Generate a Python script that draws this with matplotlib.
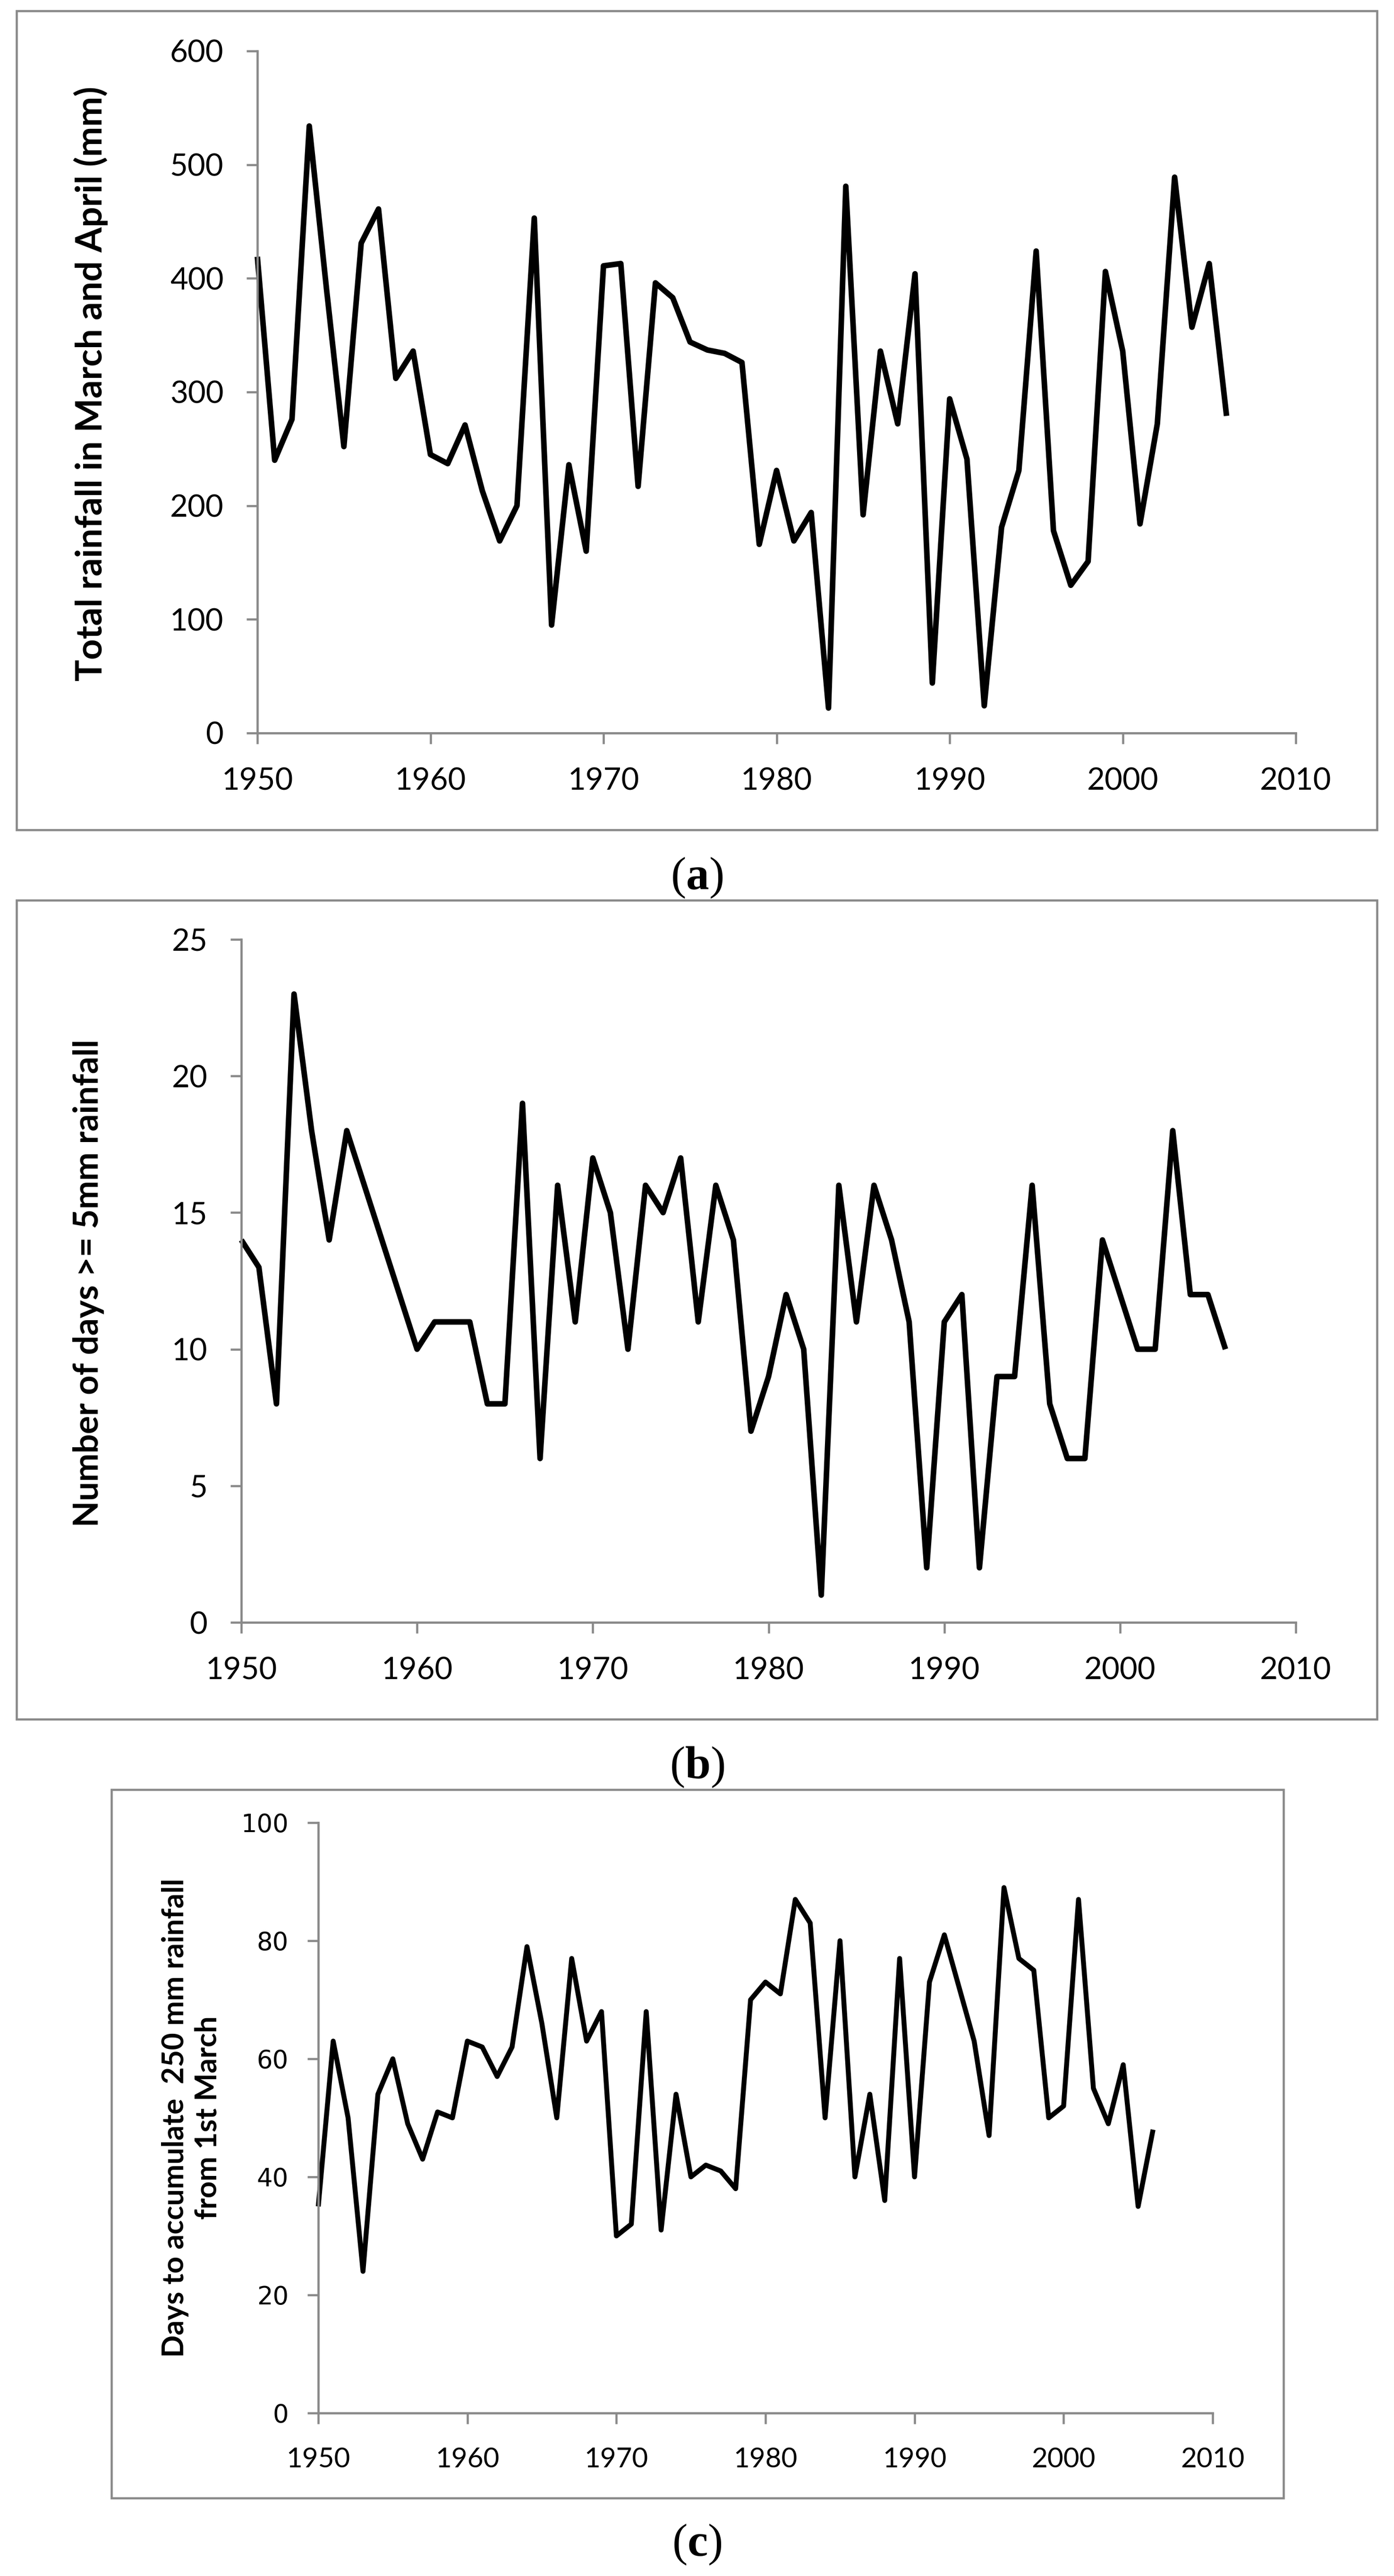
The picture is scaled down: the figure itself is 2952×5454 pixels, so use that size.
import numpy as np
import matplotlib
matplotlib.use('Agg')
import matplotlib.pyplot as plt
from matplotlib.patches import Rectangle

plt.rcParams['mathtext.fontset'] = 'custom'
plt.rcParams['mathtext.rm'] = 'Liberation Serif'
plt.rcParams['mathtext.bf'] = 'Liberation Serif:bold'

W, H = 2952, 5454
GRAY = '#898989'

# data
years = np.arange(1950, 2007)

rain_mar_apr = [419, 240, 276, 534, 390, 252, 431, 461, 312, 336,
                245, 237, 271, 213, 169, 200, 453, 95, 236, 160,
                411, 413, 217, 396, 383, 344, 337, 334, 326, 166,
                231, 169, 194, 22, 481, 192, 336, 272, 404, 44,
                294, 241, 24, 181, 231, 424, 178, 130, 151, 406,
                336, 184, 272, 489, 357, 413, 279]

days_over_5mm = [14, 13, 8, 23, 18, 14, 18, 16, 14, 12,
                 10, 11, 11, 11, 8, 8, 19, 6, 16, 11,
                 17, 15, 10, 16, 15, 17, 11, 16, 14, 7,
                 9, 12, 10, 1, 16, 11, 16, 14, 11, 2,
                 11, 12, 2, 9, 9, 16, 8, 6, 6, 14,
                 12, 10, 10, 18, 12, 12, 10]

days_to_250mm = [35, 63, 50, 24, 54, 60, 49, 43, 51, 50,
                 63, 62, 57, 62, 79, 66, 50, 77, 63, 68,
                 30, 32, 68, 31, 54, 40, 42, 41, 38, 70,
                 73, 71, 87, 83, 50, 80, 40, 54, 36, 77,
                 40, 73, 81, 72, 63, 47, 89, 77, 75, 50,
                 52, 87, 55, 49, 59, 35, 48]

x_ticks = [1950, 1960, 1970, 1980, 1990, 2000, 2010]
yticks_a = [0, 100, 200, 300, 400, 500, 600]
yticks_b = [0, 5, 10, 15, 20, 25]
yticks_c = [0, 20, 40, 60, 80, 100]

label_a = 'Total rainfall in March and April (mm)'
label_b = 'Number of days >= 5mm rainfall'
label_c = 'Days to accumulate  250 mm rainfall\nfrom 1st March'


def rect(l, t, r, b):
    return [l / W, 1 - b / H, (r - l) / W, (b - t) / H]


def box(l, t, r, b):
    fig.add_artist(Rectangle((l / W, 1 - b / H), (r - l) / W, (b - t) / H,
                             transform=fig.transFigure, fill=False,
                             edgecolor=GRAY, linewidth=3.3))


def setup(ax, yticks, ylim, yfont, ysize, xfont, xsize, ypad, xpad):
    ax.set_xlim(1950, 2010)
    ax.set_ylim(*ylim)
    ax.set_xticks(x_ticks)
    ax.set_yticks(yticks)
    for s in ('top', 'right'):
        ax.spines[s].set_visible(False)
    for s in ('left', 'bottom'):
        ax.spines[s].set_color(GRAY)
        ax.spines[s].set_linewidth(3.4)
    ax.tick_params(axis='both', direction='out', length=16.5, width=3.3,
                   color=GRAY, labelcolor='black')
    ax.tick_params(axis='y', pad=ypad)
    ax.tick_params(axis='x', pad=xpad)
    for t in ax.get_yticklabels():
        t.set_fontfamily(yfont)
        t.set_fontsize(ysize)
    for t in ax.get_xticklabels():
        t.set_fontfamily(xfont)
        t.set_fontsize(xsize)


fig = plt.figure(figsize=(W / 100, H / 100), dpi=100)

# panel (a)
box(35, 23, 2916, 1757)
ax_a = fig.add_axes(rect(545, 108, 2744, 1552))
ax_a.plot(years, rain_mar_apr, color='black', linewidth=8.5,
          solid_joinstyle='round', solid_capstyle='butt', clip_on=False)
setup(ax_a, yticks_a, (0, 600), 'Lato', 47, 'Lato', 47, 35, 36)
fig.text(192 / W, 1 - 812 / H, label_a, rotation=90, ha='center', va='center',
         fontfamily='Lato', fontweight='bold', fontsize=55)
fig.text(1476 / W, 1 - 1859 / H, r'($\mathbf{a}$)', ha='center', va='center',
         fontfamily='Liberation Serif', fontsize=70)

# panel (b)
box(35, 1906, 2916, 3640)
ax_b = fig.add_axes(rect(511, 1989, 2744, 3435))
ax_b.plot(years, days_over_5mm, color='black', linewidth=8.5,
          solid_joinstyle='round', solid_capstyle='butt', clip_on=False)
setup(ax_b, yticks_b, (0, 25), 'Lato', 47, 'Lato', 47, 35, 36)
fig.text(188 / W, 1 - 2717 / H, label_b, rotation=90, ha='center', va='center',
         fontfamily='Lato', fontweight='bold', fontsize=52)
fig.text(1476 / W, 1 - 3742 / H, r'($\mathbf{b}$)', ha='center', va='center',
         fontfamily='Liberation Serif', fontsize=70)

# panel (c)
box(236, 3789, 2718, 5289)
ax_c = fig.add_axes(rect(674, 3859, 2568, 5109))
ax_c.plot(years, days_to_250mm, color='black', linewidth=7.5,
          solid_joinstyle='round', solid_capstyle='butt', clip_on=False)
setup(ax_c, yticks_c, (0, 100), 'DejaVu Sans', 38, 'Lato', 42, 29, 35)
fig.text(406 / W, 1 - 4484 / H, label_c, rotation=90, ha='center', va='center',
         multialignment='center', linespacing=1.25,
         fontfamily='Lato', fontweight='bold', fontsize=45)
fig.text(1476 / W, 1 - 5388 / H, r'($\mathbf{c}$)', ha='center', va='center',
         fontfamily='Liberation Serif', fontsize=70)

fig.savefig('out.png', dpi=100, facecolor='white')
